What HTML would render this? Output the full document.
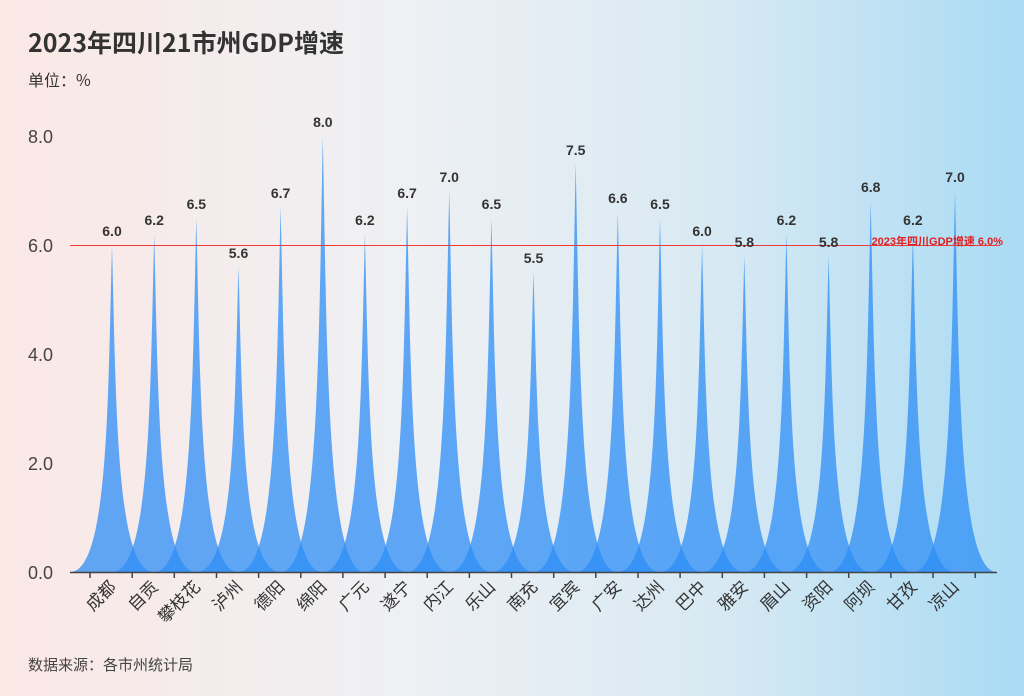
<!DOCTYPE html>
<html><head><meta charset="utf-8"><style>
body{margin:0;width:1024px;height:696px;overflow:hidden;background:linear-gradient(90deg,#fbe8e5 0%,#eef0f3 40%,#d8e9f3 70%,#a9dbf4 100%);font-family:"Liberation Sans","Noto Sans CJK SC",sans-serif;}
</style></head><body>
<svg width="1024" height="696" xmlns="http://www.w3.org/2000/svg" style="position:absolute;left:0;top:0">
<text x="28" y="52" font-size="25" font-weight="bold" fill="#333" font-family="Noto Sans CJK SC,sans-serif">2023年四川21市州GDP增速</text>
<text x="28" y="86" font-size="16" fill="#333" font-family="Noto Sans CJK SC,sans-serif">单位：%</text>
<text x="28" y="670" font-size="15" fill="#444" font-family="Noto Sans CJK SC,sans-serif">数据来源：各市州统计局</text>
<g font-size="18" fill="#444" font-family="Liberation Sans,sans-serif">
<text x="28" y="143">8.0</text><text x="28" y="252">6.0</text><text x="28" y="361">4.0</text><text x="28" y="470">2.0</text><text x="28" y="579">0.0</text>
</g>
<g fill="#2d8df5" fill-opacity="0.75">
<path transform="translate(112,572)" d="M-42 0C-4.2 0-4.2 -163.5 0 -327C4.2 -163.5 4.2 0 42 0Z"/>
<path transform="translate(154.2,572)" d="M-42 0C-4.2 0-4.2 -169 0 -338C4.2 -169 4.2 0 42 0Z"/>
<path transform="translate(196.3,572)" d="M-42 0C-4.2 0-4.2 -177 0 -354C4.2 -177 4.2 0 42 0Z"/>
<path transform="translate(238.5,572)" d="M-42 0C-4.2 0-4.2 -152.6 0 -305.2C4.2 -152.6 4.2 0 42 0Z"/>
<path transform="translate(280.6,572)" d="M-42 0C-4.2 0-4.2 -182.6 0 -365.2C4.2 -182.6 4.2 0 42 0Z"/>
<path transform="translate(322.8,572)" d="M-42 0C-4.2 0-4.2 -218 0 -436C4.2 -218 4.2 0 42 0Z"/>
<path transform="translate(364.9,572)" d="M-42 0C-4.2 0-4.2 -169 0 -338C4.2 -169 4.2 0 42 0Z"/>
<path transform="translate(407.1,572)" d="M-42 0C-4.2 0-4.2 -182.6 0 -365.2C4.2 -182.6 4.2 0 42 0Z"/>
<path transform="translate(449.2,572)" d="M-42 0C-4.2 0-4.2 -190.8 0 -381.5C4.2 -190.8 4.2 0 42 0Z"/>
<path transform="translate(491.4,572)" d="M-42 0C-4.2 0-4.2 -177 0 -354C4.2 -177 4.2 0 42 0Z"/>
<path transform="translate(533.5,572)" d="M-42 0C-4.2 0-4.2 -150 0 -300C4.2 -150 4.2 0 42 0Z"/>
<path transform="translate(575.7,572)" d="M-42 0C-4.2 0-4.2 -204.4 0 -408.8C4.2 -204.4 4.2 0 42 0Z"/>
<path transform="translate(617.8,572)" d="M-42 0C-4.2 0-4.2 -179.8 0 -359.7C4.2 -179.8 4.2 0 42 0Z"/>
<path transform="translate(660,572)" d="M-42 0C-4.2 0-4.2 -177 0 -354C4.2 -177 4.2 0 42 0Z"/>
<path transform="translate(702.1,572)" d="M-42 0C-4.2 0-4.2 -163.5 0 -327C4.2 -163.5 4.2 0 42 0Z"/>
<path transform="translate(744.3,572)" d="M-42 0C-4.2 0-4.2 -158 0 -316C4.2 -158 4.2 0 42 0Z"/>
<path transform="translate(786.4,572)" d="M-42 0C-4.2 0-4.2 -169 0 -338C4.2 -169 4.2 0 42 0Z"/>
<path transform="translate(828.6,572)" d="M-42 0C-4.2 0-4.2 -158 0 -316C4.2 -158 4.2 0 42 0Z"/>
<path transform="translate(870.7,572)" d="M-42 0C-4.2 0-4.2 -185.3 0 -370.6C4.2 -185.3 4.2 0 42 0Z"/>
<path transform="translate(912.9,572)" d="M-42 0C-4.2 0-4.2 -169 0 -338C4.2 -169 4.2 0 42 0Z"/>
<path transform="translate(955,572)" d="M-42 0C-4.2 0-4.2 -190.8 0 -381.5C4.2 -190.8 4.2 0 42 0Z"/>
</g>
<line x1="70" y1="245.5" x2="1000" y2="245.5" stroke="#f03a3a" stroke-width="1"/>
<text x="1003" y="245" text-anchor="end" font-size="11" font-weight="bold" fill="#e02020" font-family="Liberation Sans,Noto Sans CJK SC,sans-serif">2023年四川GDP增速 6.0%</text>
<g font-size="14" font-weight="bold" fill="#333" text-anchor="middle" font-family="Liberation Sans,sans-serif">
<text x="112" y="236">6.0</text><text x="154.2" y="225">6.2</text><text x="196.3" y="209">6.5</text><text x="238.5" y="258">5.6</text><text x="280.6" y="198">6.7</text><text x="322.8" y="127">8.0</text><text x="364.9" y="225">6.2</text><text x="407.1" y="198">6.7</text><text x="449.2" y="182">7.0</text><text x="491.4" y="209">6.5</text><text x="533.5" y="263">5.5</text><text x="575.7" y="155">7.5</text><text x="617.8" y="203">6.6</text><text x="660" y="209">6.5</text><text x="702.1" y="236">6.0</text><text x="744.3" y="247">5.8</text><text x="786.4" y="225">6.2</text><text x="828.6" y="247">5.8</text><text x="870.7" y="192">6.8</text><text x="912.9" y="225">6.2</text><text x="955" y="182">7.0</text>
</g>
<line x1="70" y1="572.5" x2="997" y2="572.5" stroke="#444" stroke-width="1.5"/>
<g stroke="#444" stroke-width="1.5">
<path d="M90 572v6M132.2 572v6M174.3 572v6M216.5 572v6M258.6 572v6M300.8 572v6M342.9 572v6M385.1 572v6M427.2 572v6M469.4 572v6M511.5 572v6M553.7 572v6M595.8 572v6M638 572v6M680.1 572v6M722.3 572v6M764.4 572v6M806.6 572v6M848.7 572v6M890.9 572v6M933 572v6M975.2 572v6"/>
</g>
<g font-size="17" fill="#333" text-anchor="end" font-family="Noto Sans CJK SC,sans-serif">
<text transform="translate(117,588) rotate(-45)">成都</text>
<text transform="translate(159.2,588) rotate(-45)">自贡</text>
<text transform="translate(201.3,588) rotate(-45)">攀枝花</text>
<text transform="translate(243.5,588) rotate(-45)">泸州</text>
<text transform="translate(285.6,588) rotate(-45)">德阳</text>
<text transform="translate(327.8,588) rotate(-45)">绵阳</text>
<text transform="translate(369.9,588) rotate(-45)">广元</text>
<text transform="translate(412.1,588) rotate(-45)">遂宁</text>
<text transform="translate(454.2,588) rotate(-45)">内江</text>
<text transform="translate(496.4,588) rotate(-45)">乐山</text>
<text transform="translate(538.5,588) rotate(-45)">南充</text>
<text transform="translate(580.7,588) rotate(-45)">宜宾</text>
<text transform="translate(622.8,588) rotate(-45)">广安</text>
<text transform="translate(665,588) rotate(-45)">达州</text>
<text transform="translate(707.1,588) rotate(-45)">巴中</text>
<text transform="translate(749.3,588) rotate(-45)">雅安</text>
<text transform="translate(791.4,588) rotate(-45)">眉山</text>
<text transform="translate(833.6,588) rotate(-45)">资阳</text>
<text transform="translate(875.7,588) rotate(-45)">阿坝</text>
<text transform="translate(917.9,588) rotate(-45)">甘孜</text>
<text transform="translate(960,588) rotate(-45)">凉山</text>
</g>
</svg>
</body></html>
